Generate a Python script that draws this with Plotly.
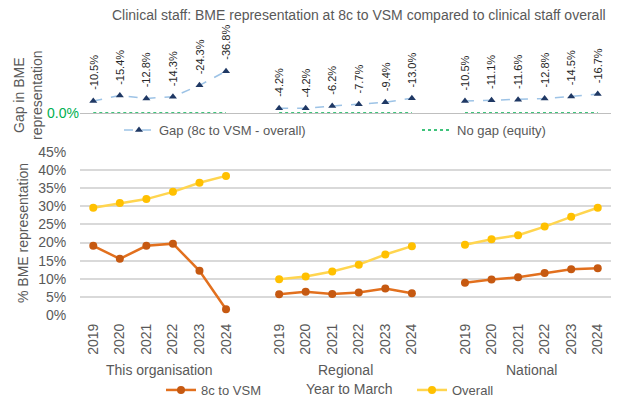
import plotly.graph_objects as go

groups = ["This organisation", "Regional", "National"]
years = ["2019", "2020", "2021", "2022", "2023", "2024"]

# % BME representation, 8c to VSM
org_8c = [19.1, 15.5, 19.1, 19.7, 12.2, 1.6]
reg_8c = [5.7, 6.4, 5.8, 6.2, 7.3, 6.0]
nat_8c = [8.9, 9.8, 10.4, 11.6, 12.6, 12.9]

# % BME representation, clinical staff overall
org_overall = [29.6, 30.9, 32.0, 34.0, 36.5, 38.4]
reg_overall = [9.9, 10.6, 12.0, 13.9, 16.7, 19.0]
nat_overall = [19.4, 20.9, 22.0, 24.4, 27.1, 29.6]

# Gap (8c to VSM - overall), percentage points
org_gap = [-10.5, -15.4, -12.8, -14.3, -24.3, -36.8]
reg_gap = [-4.2, -4.2, -6.2, -7.7, -9.4, -13.0]
nat_gap = [-10.5, -11.1, -11.6, -12.8, -14.5, -16.7]

y_ticks = [0, 5, 10, 15, 20, 25, 30, 35, 40, 45]

GRAY = "#595959"
FONT = "Liberation Sans, Arial, sans-serif"
slot = len(years) + 1


def flatten(series):
    xs, ys = [], []
    for gi, vals in enumerate(series):
        for yi, v in enumerate(vals):
            xs.append(gi * slot + yi)
            ys.append(v)
        if gi < len(series) - 1:
            xs.append(gi * slot + len(years))
            ys.append(None)
    return xs, ys


x8, y8 = flatten([org_8c, reg_8c, nat_8c])
xo, yo = flatten([org_overall, reg_overall, nat_overall])
xg, yg = flatten([org_gap, reg_gap, nat_gap])
xz, yz = flatten([[0] * len(years)] * len(groups))

fig = go.Figure()

fig.add_trace(go.Scatter(
    x=xz, y=yz, xaxis="x2", yaxis="y2", mode="lines", name="No gap (equity)",
    line=dict(color="#00B050", width=1.5, dash="dot"), connectgaps=False,
    legend="legend2", hoverinfo="skip"))
fig.add_trace(go.Scatter(
    x=xg, y=yg, xaxis="x2", yaxis="y2", mode="lines+markers",
    name="Gap (8c to VSM - overall)",
    line=dict(color="#9DC3E6", width=1.5, dash="dash"),
    marker=dict(symbol="triangle-up", size=7, color="#1F3864"),
    connectgaps=False, legend="legend"))
fig.add_trace(go.Scatter(
    x=x8, y=y8, mode="lines+markers", name="8c to VSM",
    line=dict(color="#E2701E", width=2.5),
    marker=dict(size=8, color="#C65911"), connectgaps=False, legend="legend3"))
fig.add_trace(go.Scatter(
    x=xo, y=yo, mode="lines+markers", name="Overall",
    line=dict(color="#FFD54F", width=2.5),
    marker=dict(size=8, color="#FFC000"), connectgaps=False, legend="legend4"))

annotations = []
for xv, yv in zip(xg, yg):
    if yv is None:
        continue
    annotations.append(dict(
        x=xv, y=yv, xref="x2", yref="y2", text=f"{yv:.1f}%", showarrow=False,
        textangle=-90, yanchor="bottom", xanchor="center", yshift=9,
        font=dict(size=11, color="#262626", family=FONT)))

for gi, g in enumerate(groups):
    annotations.append(dict(
        x=gi * slot + (len(years) - 1) / 2, y=(400 - 370) / 400, xref="x", yref="paper",
        xanchor="center", yanchor="middle",
        text=g, showarrow=False, font=dict(size=14, color=GRAY, family=FONT)))


def px_x(p):
    return (p - 80) / 531


def px_y(p):
    return (400 - p) / 400


annotations += [
    dict(x=px_x(349), y=px_y(389), xref="paper", yref="paper", xanchor="center",
         yanchor="middle", text="Year to March", showarrow=False,
         font=dict(size=14, color=GRAY, family=FONT)),
    dict(x=px_x(359), y=px_y(15), xref="paper", yref="paper", xanchor="center",
         yanchor="middle",
         text="Clinical staff: BME representation at 8c to VSM compared to clinical staff overall",
         showarrow=False, font=dict(size=14, color=GRAY, family=FONT)),
    dict(x=px_x(23), y=px_y(233), xref="paper", yref="paper", xanchor="center",
         yanchor="middle", text="% BME representation", textangle=-90, showarrow=False,
         font=dict(size=14, color=GRAY, family=FONT)),
    dict(x=px_x(28), y=px_y(95), xref="paper", yref="paper", xanchor="center",
         yanchor="middle", text="Gap in BME<br>representation", textangle=-90,
         showarrow=False, font=dict(size=14, color=GRAY, family=FONT)),
]

tickvals = [gi * slot + yi for gi in range(len(groups)) for yi in range(len(years))]
ticktext = years * len(groups)

legend_common = dict(orientation="h", bgcolor="rgba(0,0,0,0)", yanchor="middle",
                     xanchor="left", font=dict(size=13, color=GRAY, family=FONT))

fig.update_layout(
    width=617, height=400,
    margin=dict(l=80, r=6, t=0, b=0, autoexpand=False),
    plot_bgcolor="white", paper_bgcolor="white",
    font=dict(family=FONT, color=GRAY),
    showlegend=True,
    xaxis=dict(range=[-0.5, len(groups) * slot - 1.5], tickvals=tickvals, ticktext=ticktext,
               tickangle=-90, tickfont=dict(size=14, color=GRAY), showgrid=False,
               zeroline=False, showline=False, ticks="outside", ticklen=2,
               tickcolor="rgba(0,0,0,0)", automargin=False, anchor="y"),
    yaxis=dict(domain=[px_y(315), px_y(152)], range=[0, 45],
               tickvals=y_ticks, ticktext=[f"{v}%" for v in y_ticks],
               tickfont=dict(size=14, color=GRAY), showgrid=True, gridcolor="#D9D9D9",
               gridwidth=1.5, zeroline=False, showline=False, ticks="outside", ticklen=10,
               tickcolor="rgba(0,0,0,0)", automargin=False),
    xaxis2=dict(matches="x", anchor="y2", showticklabels=False, showgrid=False,
                zeroline=False, showline=True, linecolor="#BFBFBF", linewidth=1,
                ticks="", automargin=False),
    yaxis2=dict(domain=[px_y(113), px_y(22)], range=[0, -80],
                tickvals=[0], ticktext=["0.0%"], tickfont=dict(size=14, color="#00B050"),
                showgrid=False, zeroline=False, showline=False, ticks="", automargin=False,
                anchor="x2"),
    legend=dict(x=px_x(119), y=px_y(130), **legend_common),
    legend2=dict(x=px_x(417), y=px_y(130), **legend_common),
    legend3=dict(x=px_x(161), y=px_y(390), **legend_common),
    legend4=dict(x=px_x(412), y=px_y(390), **legend_common),
    annotations=annotations,
)

fig.write_html("out.html", config={"displayModeBar": False},
               post_script="document.body.style.margin='0';document.body.style.overflow='hidden';")
